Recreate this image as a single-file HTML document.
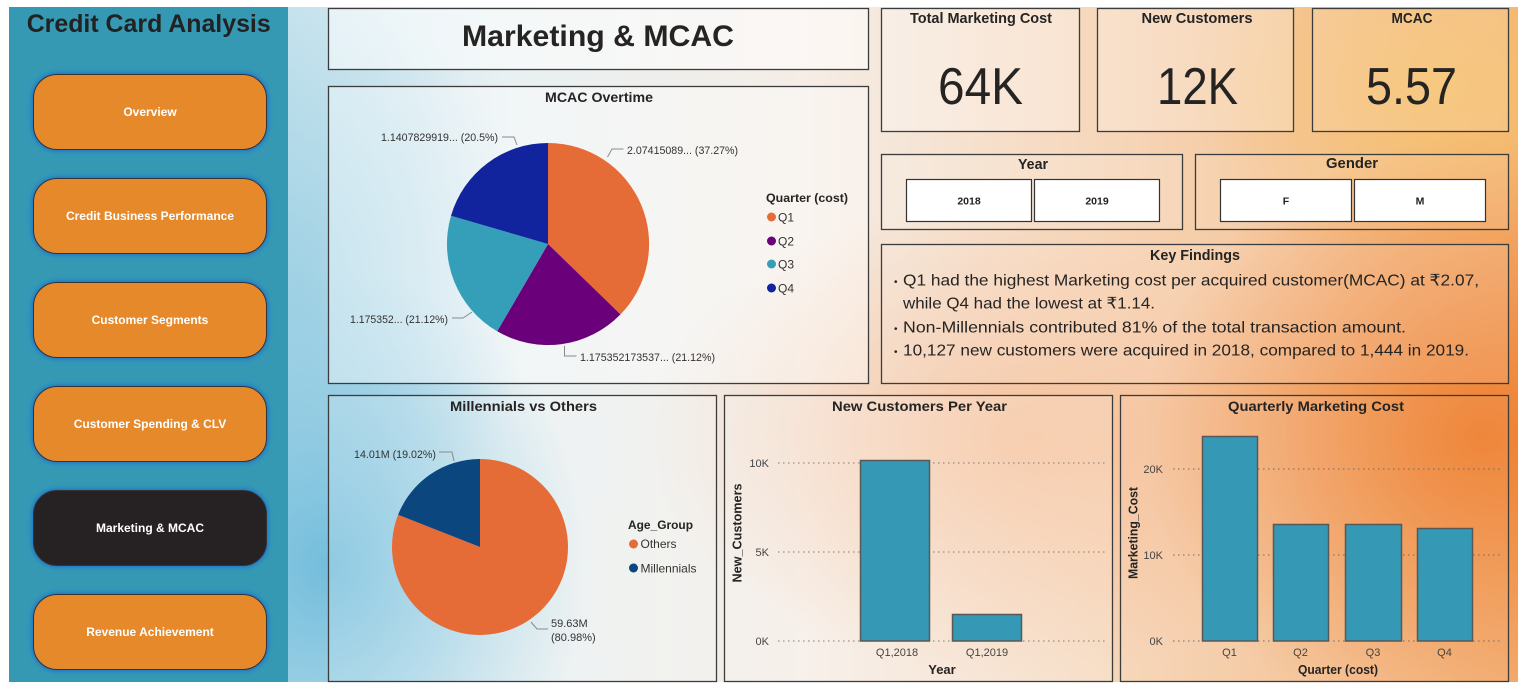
<!DOCTYPE html>
<html><head><meta charset="utf-8">
<style>
html,body{margin:0;padding:0;width:1518px;height:692px;overflow:hidden;background:#fff;font-family:"Liberation Sans",sans-serif;}
#bg{position:absolute;left:288px;top:7px;width:1230px;height:675px;background:
 radial-gradient(ellipse 260px 300px at 40px 560px, rgba(105,185,218,0.9), rgba(105,185,218,0) 100%),
 radial-gradient(ellipse 230px 300px at 10px 270px, rgba(150,205,226,0.8), rgba(150,205,226,0) 100%),
 radial-gradient(ellipse 340px 300px at 1195px 430px, rgba(238,122,40,0.9), rgba(238,122,40,0) 100%),
 radial-gradient(ellipse 260px 190px at 1160px 80px, rgba(246,195,105,0.8), rgba(246,195,105,0) 100%),
 radial-gradient(ellipse 380px 240px at 740px 430px, rgba(245,180,135,0.65), rgba(245,180,135,0) 100%),
 linear-gradient(90deg,#c9e4ee 0%,#e8f0f2 18%,#f5ede6 42%,#f6d7bb 66%,#f3b277 100%);}
#side{position:absolute;left:9px;top:7px;width:279px;height:675px;background:#3599b4;}
.btn{position:absolute;left:33px;width:234px;height:76px;border-radius:24px;background:#e5892a;border:1px solid #333;box-shadow:0 0 5px 1px #1b6fd2;color:#fff;font-weight:bold;font-size:12px;display:flex;align-items:center;justify-content:center;box-sizing:border-box;}
.btn.on{background:#262223;}
svg{position:absolute;left:0;top:0;}
</style></head><body>
<div id="bg"></div>
<div id="side"></div>
<div class="btn" style="top:74px">Overview</div>
<div class="btn" style="top:178px">Credit Business Performance</div>
<div class="btn" style="top:282px">Customer Segments</div>
<div class="btn" style="top:386px">Customer Spending &amp; CLV</div>
<div class="btn on" style="top:490px">Marketing &amp; MCAC</div>
<div class="btn" style="top:594px">Revenue Achievement</div>

<svg width="1518" height="692" viewBox="0 0 1518 692" xmlns="http://www.w3.org/2000/svg" font-family="Liberation Sans, sans-serif">
<text x="148.7" y="32" font-size="25" font-weight="bold" fill="#222" text-anchor="middle" textLength="244" lengthAdjust="spacingAndGlyphs">Credit Card Analysis</text>

<g stroke="#3c3c3c" stroke-width="1.3">
<rect x="328.5" y="8.5" width="540" height="61" fill="rgba(255,255,255,0.55)"/>
<rect x="328.5" y="86.5" width="540" height="297" fill="rgba(255,255,255,0.4)"/>
<rect x="881.5" y="8.5" width="198" height="123" fill="rgba(255,255,255,0.3)"/>
<rect x="1097.5" y="8.5" width="196" height="123" fill="rgba(255,255,255,0.25)"/>
<rect x="1312.5" y="8.5" width="196" height="123" fill="rgba(255,255,255,0.12)"/>
<rect x="881.5" y="154.5" width="301" height="75" fill="rgba(255,255,255,0.15)"/>
<rect x="1195.5" y="154.5" width="313" height="75" fill="rgba(255,255,255,0.1)"/>
<rect x="881.5" y="244.5" width="627" height="139" fill="rgba(255,255,255,0.12)"/>
<rect x="328.5" y="395.5" width="388" height="286" fill="rgba(255,255,255,0.2)"/>
<rect x="724.5" y="395.5" width="388" height="286" fill="rgba(255,255,255,0.2)"/>
<rect x="1120.5" y="395.5" width="388" height="286" fill="rgba(255,255,255,0.05)"/>
</g>

<text x="598" y="46" font-size="30" font-weight="bold" fill="#252423" text-anchor="middle" textLength="272" lengthAdjust="spacingAndGlyphs">Marketing &amp; MCAC</text>

<!-- KPI -->
<g fill="#252423" font-weight="bold" font-size="15" text-anchor="middle">
<text x="981" y="23" textLength="142" lengthAdjust="spacingAndGlyphs">Total Marketing Cost</text>
<text x="1197" y="23" textLength="111" lengthAdjust="spacingAndGlyphs">New Customers</text>
<text x="1412" y="23" textLength="41" lengthAdjust="spacingAndGlyphs">MCAC</text>
<text x="1033" y="169" textLength="30" lengthAdjust="spacingAndGlyphs">Year</text>
<text x="1352" y="168" textLength="52" lengthAdjust="spacingAndGlyphs">Gender</text>
<text x="1195" y="260" textLength="90" lengthAdjust="spacingAndGlyphs">Key Findings</text>
</g>
<g fill="#252423" font-size="52" text-anchor="middle">
<text x="980.5" y="104" textLength="85" lengthAdjust="spacingAndGlyphs">64K</text>
<text x="1197.5" y="104" textLength="81" lengthAdjust="spacingAndGlyphs">12K</text>
<text x="1411.5" y="104" textLength="91" lengthAdjust="spacingAndGlyphs">5.57</text>
</g>

<!-- slicer buttons -->
<g fill="#fff" stroke="#333" stroke-width="1.2">
<rect x="906.5" y="179.5" width="125" height="42"/>
<rect x="1034.5" y="179.5" width="125" height="42"/>
<rect x="1220.5" y="179.5" width="131" height="42"/>
<rect x="1354.5" y="179.5" width="131" height="42"/>
</g>
<g fill="#222" font-size="10.5" font-weight="bold" text-anchor="middle">
<text x="969" y="204.5">2018</text>
<text x="1097" y="204.5">2019</text>
<text x="1286" y="204.5">F</text>
<text x="1420" y="204.5">M</text>
</g>

<!-- Key findings -->
<g fill="#252423" font-size="16">
<text x="894" y="285" font-size="10">•</text>
<text x="903" y="285.5" textLength="576" lengthAdjust="spacingAndGlyphs">Q1 had the highest Marketing cost per acquired customer(MCAC) at ₹2.07,</text>
<text x="903" y="308.5" textLength="252" lengthAdjust="spacingAndGlyphs">while Q4 had the lowest at ₹1.14.</text>
<text x="894" y="332" font-size="10">•</text>
<text x="903" y="332.5" textLength="503" lengthAdjust="spacingAndGlyphs">Non-Millennials contributed 81% of the total transaction amount.</text>
<text x="894" y="355" font-size="10">•</text>
<text x="903" y="355.5" textLength="566" lengthAdjust="spacingAndGlyphs">10,127 new customers were acquired in 2018, compared to 1,444 in 2019.</text>
</g>

<!-- MCAC Overtime pie -->
<text x="599" y="102" font-size="14" font-weight="bold" fill="#252423" text-anchor="middle" textLength="108" lengthAdjust="spacingAndGlyphs">MCAC Overtime</text>
<path d="M548,244 L548,143 A101,101 0 0 1 620.5,314.4 Z" fill="#e66c37"/>
<path d="M548,244 L620.5,314.4 A101,101 0 0 1 497.2,331.3 Z" fill="#6b007b"/>
<path d="M548,244 L497.2,331.3 A101,101 0 0 1 451.0,215.8 Z" fill="#359eb8"/>
<path d="M548,244 L451.0,215.8 A101,101 0 0 1 548,143 Z" fill="#12239e"/>
<g stroke="#8a8a8a" stroke-width="1" fill="none">
<polyline points="607.5,157 612,149 623.5,149"/>
<polyline points="502,137 514,137 517,145"/>
<polyline points="452,318 463,318 472,312"/>
<polyline points="564.5,346 564.5,356 576.5,356"/>
</g>
<g fill="#333" font-size="11">
<text x="627" y="154" textLength="111" lengthAdjust="spacingAndGlyphs">2.07415089... (37.27%)</text>
<text x="498" y="141" text-anchor="end" textLength="117" lengthAdjust="spacingAndGlyphs">1.1407829919... (20.5%)</text>
<text x="448" y="323" text-anchor="end" textLength="98" lengthAdjust="spacingAndGlyphs">1.175352... (21.12%)</text>
<text x="580" y="361" textLength="135" lengthAdjust="spacingAndGlyphs">1.175352173537... (21.12%)</text>
</g>
<text x="766" y="202" font-size="12" font-weight="bold" fill="#252423" textLength="82" lengthAdjust="spacingAndGlyphs">Quarter (cost)</text>
<circle cx="771.5" cy="217" r="4.5" fill="#e66c37"/>
<circle cx="771.5" cy="241" r="4.5" fill="#6b007b"/>
<circle cx="771.5" cy="264" r="4.5" fill="#359eb8"/>
<circle cx="771.5" cy="288" r="4.5" fill="#12239e"/>
<g fill="#333" font-size="12">
<text x="778" y="221.5">Q1</text>
<text x="778" y="245.5">Q2</text>
<text x="778" y="268.5">Q3</text>
<text x="778" y="292.5">Q4</text>
</g>

<!-- Millennials pie -->
<text x="523.5" y="411" font-size="14" font-weight="bold" fill="#252423" text-anchor="middle" textLength="147" lengthAdjust="spacingAndGlyphs">Millennials vs Others</text>
<path d="M480,547 L480,459 A88,88 0 1 1 398.1,514.8 Z" fill="#e66c37"/>
<path d="M480,547 L398.1,514.8 A88,88 0 0 1 480,459 Z" fill="#0b467f"/>
<g stroke="#8a8a8a" stroke-width="1" fill="none">
<polyline points="439,452 452,452 454,461"/>
<polyline points="531,622 537,629 548,629"/>
</g>
<g fill="#333" font-size="11">
<text x="354" y="458" textLength="82" lengthAdjust="spacingAndGlyphs">14.01M (19.02%)</text>
<text x="551" y="627">59.63M</text>
<text x="551" y="641">(80.98%)</text>
</g>
<text x="628" y="529" font-size="12" font-weight="bold" fill="#252423" textLength="65" lengthAdjust="spacingAndGlyphs">Age_Group</text>
<circle cx="633.5" cy="544" r="4.5" fill="#e66c37"/>
<circle cx="633.5" cy="568" r="4.5" fill="#0b467f"/>
<g fill="#333" font-size="12">
<text x="640.5" y="548">Others</text>
<text x="640.5" y="572.5">Millennials</text>
</g>

<!-- New Customers Per Year -->
<text x="919.5" y="411" font-size="14" font-weight="bold" fill="#252423" text-anchor="middle" textLength="175" lengthAdjust="spacingAndGlyphs">New Customers Per Year</text>
<g stroke="#7a7a7a" stroke-width="1" stroke-dasharray="1.5 3.5">
<line x1="778" y1="463" x2="1107" y2="463"/>
<line x1="778" y1="552" x2="1107" y2="552"/>
<line x1="778" y1="641" x2="1107" y2="641"/>
</g>
<g fill="#3599b6" stroke="#585858" stroke-width="1.5">
<rect x="860.5" y="460.5" width="69" height="180.5"/>
<rect x="952.5" y="614.5" width="69" height="26.5"/>
</g>
<g fill="#444" font-size="11" text-anchor="end">
<text x="769" y="467">10K</text>
<text x="769" y="556">5K</text>
<text x="769" y="645">0K</text>
</g>
<g fill="#444" font-size="11" text-anchor="middle">
<text x="897" y="656">Q1,2018</text>
<text x="987" y="656">Q1,2019</text>
</g>
<text x="942" y="674" font-size="13" font-weight="bold" fill="#252423" text-anchor="middle">Year</text>
<text transform="translate(741.5,533) rotate(-90)" font-size="12.5" font-weight="bold" fill="#252423" text-anchor="middle" textLength="99" lengthAdjust="spacingAndGlyphs">New_Customers</text>

<!-- Quarterly Marketing Cost -->
<text x="1316" y="411" font-size="14" font-weight="bold" fill="#252423" text-anchor="middle" textLength="176" lengthAdjust="spacingAndGlyphs">Quarterly Marketing Cost</text>
<g stroke="#6a6a6a" stroke-width="1" stroke-dasharray="1.5 3.5">
<line x1="1173" y1="469" x2="1503" y2="469"/>
<line x1="1173" y1="555" x2="1503" y2="555"/>
<line x1="1173" y1="641" x2="1503" y2="641"/>
</g>
<g fill="#3599b6" stroke="#585858" stroke-width="1.5">
<rect x="1202.5" y="436.5" width="55" height="204.5"/>
<rect x="1273.5" y="524.5" width="55" height="116.5"/>
<rect x="1345.5" y="524.5" width="56" height="116.5"/>
<rect x="1417.5" y="528.5" width="55" height="112.5"/>
</g>
<g fill="#444" font-size="11" text-anchor="end">
<text x="1163" y="473">20K</text>
<text x="1163" y="559">10K</text>
<text x="1163" y="645">0K</text>
</g>
<g fill="#444" font-size="11" text-anchor="middle">
<text x="1229.5" y="656">Q1</text>
<text x="1300.5" y="656">Q2</text>
<text x="1373" y="656">Q3</text>
<text x="1444.5" y="656">Q4</text>
</g>
<text x="1338" y="674" font-size="13" font-weight="bold" fill="#252423" text-anchor="middle" textLength="80" lengthAdjust="spacingAndGlyphs">Quarter (cost)</text>
<text transform="translate(1137.5,533) rotate(-90)" font-size="12.5" font-weight="bold" fill="#252423" text-anchor="middle" textLength="92" lengthAdjust="spacingAndGlyphs">Marketing_Cost</text>
</svg>
</body></html>
